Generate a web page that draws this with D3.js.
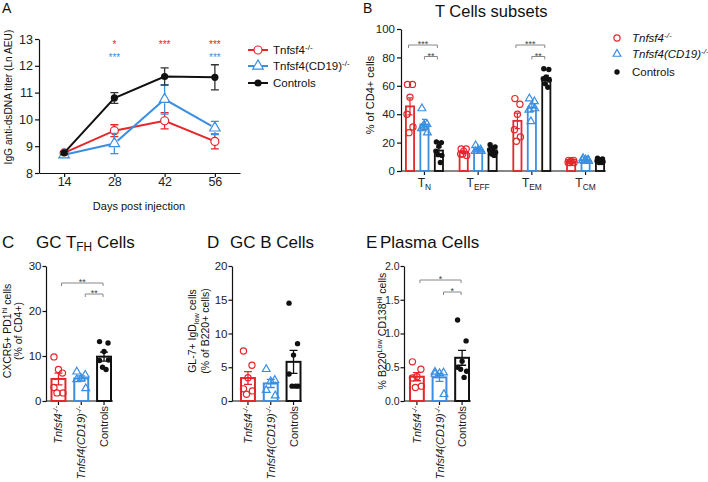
<!DOCTYPE html>
<html>
<head>
<meta charset="utf-8">
<script src="https://cdn.jsdelivr.net/npm/d3@7"></script>
<style>
  body { margin: 0; background: #fff; }
  svg { font-family: "Liberation Sans", Arial, Helvetica, sans-serif; }
</style>
</head>
<body>
<svg id="fig" width="708" height="482"></svg>
<script>
// --- panel A: anti-dsDNA titer over time ---
const days = [14, 28, 42, 56];
const titerKO = [8.75, 9.58, 9.95, 9.18];
const titerKOErr = [0.05, 0.22, 0.30, 0.28];
const titerCD19 = [8.68, 9.10, 10.75, 9.68];
const titerCD19Err = [0.10, 0.38, 0.55, 0.25];
const titerCtrl = [8.75, 10.80, 11.60, 11.57];
const titerCtrlErr = [0.05, 0.20, 0.32, 0.47];
const starsKO = ["", "*", "***", "***"];
const starsCD19 = ["", "***", "", "***"];

// --- panel B: T cell subsets (% of CD4+) ---
const subsets = ["N", "EFF", "EM", "CM"];
const tMeanKO = [45.5, 13.3, 35.3, 6.7];
const tErrKO = [6.0, 0.8, 5.5, 0.4];
const tMeanCD19 = [32.8, 15.2, 44.7, 7.7];
const tErrCD19 = [3.5, 0.8, 2.8, 0.4];
const tMeanCtrl = [14.4, 14.6, 65.6, 7.2];
const tErrCtrl = [2.3, 1.1, 1.8, 0.5];
const tPtsKO = [[61, 61, 52, 40, 31, 27], [15.5, 15.5, 14, 12, 11, 12], [51, 47, 40, 29, 24, 21], [7.5, 7.5, 7, 6, 6, 6]];
const tPtsCD19 = [[44, 33, 31, 30, 27, 32], [18, 15, 15, 14, 14], [51, 49, 46, 43, 44, 35], [9, 8, 8, 7.5, 7, 7]];
const tPtsCtrl = [[20.5, 20, 17.5, 14, 11, 11.5, 6], [18.5, 17, 16, 15, 13, 12, 11], [72, 71.5, 66, 65, 64, 61.5, 59], [9, 8.5, 8, 7, 6.5, 6, 6]];

// --- panels C, D, E ---
const groups = ["ko", "cd19", "ctrl"];
const tfhMean = [4.9, 5.0, 9.85];
const tfhErr = [1.3, 0.6, 1.0];
const tfhPts = [[9.8, 6.2, 7, 3, 1.8, 1.8], [6.5, 5.8, 5, 4.8, 2.8], [13.2, 12.9, 11, 9, 9.1, 7.5, 7]];
const gcbMean = [3.4, 2.6, 5.8];
const gcbErr = [0.95, 0.6, 1.7];
const gcbPts = [[7.4, 5.3, 3.45, 1.8, 1.5, 1.0], [4.7, 3.1, 2.9, 1.6, 0.8], [14.5, 8.5, 6.8, 4.0, 2.2, 2.2, 2.2]];
const plasmaMean = [0.36, 0.35, 0.64];
const plasmaErr = [0.06, 0.06, 0.11];
const plasmaPts = [[0.58, 0.47, 0.36, 0.34, 0.22, 0.2], [0.43, 0.42, 0.41, 0.4, 0.1], [1.2, 0.89, 0.59, 0.5, 0.44, 0.47, 0.35]];

const RED = "#e5262b", BLUE = "#3a8fe2", BLACK = "#111";
const COLORS = [RED, BLUE, BLACK];
const MARKS = ["circle", "tri", "dot"];
const JIT = [-2.5, 2.5, 0, -3, 3, -1, 1.5];
const JIT_WIDE = [-4.5, 4, 0, -4.5, 4.5, -1.5, 2];

const svg = d3.select("#fig");

function styleAxis(g, fs) {
  g.selectAll(".domain, .tick line").attr("stroke", "#111").attr("stroke-width", 1.2);
  g.selectAll("text").attr("font-size", fs).attr("fill", "#222");
}

// text with sub/superscript parts: [[text, "sub"|"sup"|null], ...]
function richText(sel, parts) {
  let shift = 0;
  parts.forEach(([t, kind]) => {
    const target = kind === "sup" ? -4 : kind === "sub" ? 3 : 0;
    sel.append("tspan").attr("dy", (target - shift) || null)
      .attr("font-size", kind ? "0.7em" : null).text(t);
    shift = target;
  });
  return sel;
}

function mark(g, x, y, kind, color, big) {
  if (kind === "circle") {
    g.append("circle").attr("cx", x).attr("cy", y).attr("r", big ? 4 : 3.1)
      .attr("fill", "none").attr("stroke", color).attr("stroke-width", 1.2);
  } else if (kind === "tri") {
    g.append("path").attr("d", d3.symbol(d3.symbolTriangle, big ? 48 : 26)())
      .attr("transform", `translate(${x},${y})`)
      .attr("fill", "none").attr("stroke", color).attr("stroke-width", 1.2);
  } else {
    g.append("circle").attr("cx", x).attr("cy", y).attr("r", big ? 3.6 : 2.7).attr("fill", color);
  }
}

function errBar(g, x, y0, y1, cap, color, w) {
  g.append("path").attr("d", `M${x},${y0}V${y1}M${x - cap},${y0}H${x + cap}M${x - cap},${y1}H${x + cap}`)
    .attr("stroke", color).attr("stroke-width", w || 1.3).attr("fill", "none");
}

function bracket(g, x1, x2, y, label) {
  g.append("path").attr("d", `M${x1},${y + 3}V${y}H${x2}V${y + 3}`)
    .attr("stroke", "#888").attr("stroke-width", 1).attr("fill", "none");
  g.append("text").attr("x", (x1 + x2) / 2).attr("y", y + 2.2).attr("text-anchor", "middle")
    .attr("font-size", 9).attr("fill", "#444").text(label);
}

function label(x, y, txt, fs) {
  return svg.append("text").attr("x", x).attr("y", y).attr("font-size", fs).attr("fill", "#111").text(txt);
}

// ================= Panel A =================
(function () {
  const x = d3.scaleLinear().domain([7, 63]).range([39, 240]);
  const y = d3.scaleLinear().domain([8, 13]).range([173, 39]);
  const g = svg.append("g");

  g.append("g").attr("transform", "translate(39,0)")
    .call(d3.axisLeft(y).ticks(5).tickSize(4).tickPadding(2).tickSizeOuter(0))
    .call(styleAxis, 12.5);
  g.append("g").attr("transform", "translate(0,173)")
    .call(d3.axisBottom(x).tickValues(days).tickSize(4).tickPadding(0).tickSizeOuter(0))
    .call(styleAxis, 12.5);

  const series = [[titerKO, titerKOErr], [titerCD19, titerCD19Err], [titerCtrl, titerCtrlErr]];
  const line = d3.line().x((d, i) => x(days[i])).y(d => y(d));
  series.forEach(([vals, errs], s) => {
    vals.forEach((v, i) => errBar(g, x(days[i]), y(v - errs[i]), y(v + errs[i]), 4, s === 2 ? "#333" : COLORS[s], 1.3));
    g.append("path").datum(vals).attr("d", line).attr("fill", "none")
      .attr("stroke", COLORS[s]).attr("stroke-width", 2);
    vals.forEach((v, i) => {
      if (s !== 2) g.append("circle").attr("cx", x(days[i])).attr("cy", y(v)).attr("r", 4).attr("fill", "#fff");
      mark(g, x(days[i]), y(v), MARKS[s], COLORS[s], true);
    });
  });

  starsKO.forEach((s, i) => {
    g.append("text").attr("x", x(days[i])).attr("y", 47.5).attr("text-anchor", "middle")
      .attr("font-size", 10).attr("fill", RED).text(s);
  });
  starsCD19.forEach((s, i) => {
    g.append("text").attr("x", x(days[i])).attr("y", 60.5).attr("text-anchor", "middle")
      .attr("font-size", 10).attr("fill", BLUE).text(s);
  });

  // legend
  const legY = [50, 66, 83];
  const legTxt = [[["Tnfsf4", null], ["-/-", "sup"]], [["Tnfsf4(CD19)", null], ["-/-", "sup"]], [["Controls", null]]];
  legY.forEach((ly, s) => {
    g.append("line").attr("x1", 248).attr("x2", 268).attr("y1", ly).attr("y2", ly)
      .attr("stroke", COLORS[s]).attr("stroke-width", 2);
    if (s !== 2) g.append("circle").attr("cx", 258).attr("cy", ly).attr("r", 4).attr("fill", "#fff");
    mark(g, 258, ly, MARKS[s], COLORS[s], true);
    richText(g.append("text").attr("x", 273).attr("y", ly + 4).attr("font-size", 11.5).attr("fill", "#111"), legTxt[s]);
  });

  g.append("text").attr("transform", "translate(8.5,97) rotate(-90)").attr("dy", "0.35em")
    .attr("text-anchor", "middle").attr("font-size", 10.2).attr("fill", "#111")
    .text("IgG anti-dsDNA titer (Ln AEU)");
  g.append("text").attr("x", 139).attr("y", 210).attr("text-anchor", "middle")
    .attr("font-size", 11).attr("fill", "#111").text("Days post injection");
  label(2, 13, "A", 14);
})();

// ================= Panel B =================
(function () {
  const y = d3.scaleLinear().domain([0, 100]).range([171, 29]);
  const x = d3.scaleBand().domain(subsets).range([405, 605]).paddingInner(0.276);
  const xs = d3.scaleBand().domain([0, 1, 2]).range([0, x.bandwidth()]).paddingInner(0.31);
  const g = svg.append("g");

  g.append("g").attr("transform", "translate(401,0)")
    .call(d3.axisLeft(y).tickValues([0, 20, 40, 60, 80, 100]).tickSize(4).tickPadding(2).tickSizeOuter(0))
    .call(styleAxis, 11.5);
  const xa = g.append("g").attr("transform", "translate(0,171)")
    .call(d3.axisBottom(x).tickSize(4).tickSizeOuter(0).tickFormat(""))
    .call(styleAxis, 11.5);
  xa.select(".domain").attr("d", "M401,0H606");
  subsets.forEach(s => {
    richText(g.append("text").attr("x", x(s) + x.bandwidth() / 2).attr("y", 186.5)
      .attr("text-anchor", "middle").attr("font-size", 12).attr("fill", "#222"), [["T", null], [s, "sub"]]);
  });

  const means = [tMeanKO, tMeanCD19, tMeanCtrl];
  const errs = [tErrKO, tErrCD19, tErrCtrl];
  const pts = [tPtsKO, tPtsCD19, tPtsCtrl];
  subsets.forEach((sub, gi) => {
    [0, 1, 2].forEach(s => {
      const bx = x(sub) + xs(s), bw = xs.bandwidth(), cx = bx + bw / 2;
      const m = means[s][gi];
      g.append("rect").attr("x", bx + 0.9).attr("width", bw - 1.8)
        .attr("y", y(m)).attr("height", y(0) - y(m))
        .attr("fill", "none").attr("stroke", COLORS[s]).attr("stroke-width", 1.8);
      errBar(g, cx, y(m - errs[s][gi]), y(m + errs[s][gi]), 2.5, COLORS[s], 1.2);
      pts[s][gi].forEach((v, k) => mark(g, cx + JIT[k % JIT.length], y(v), MARKS[s], COLORS[s], false));
    });
  });

  const cen = (sub, s) => x(sub) + xs(s) + xs.bandwidth() / 2;
  bracket(g, cen("N", 0) - 1.5, cen("N", 2) - 1.5, 45, "***");
  bracket(g, cen("N", 1), cen("N", 2) - 1.5, 56.5, "**");
  bracket(g, cen("EM", 0) - 1.5, cen("EM", 2) - 1.5, 45, "***");
  bracket(g, cen("EM", 1), cen("EM", 2) - 1.5, 56.5, "**");

  // legend
  const legY = [38, 54, 72];
  const legTxt = [[["Tnfsf4", null], ["-/-", "sup"]], [["Tnfsf4(CD19)", null], ["-/-", "sup"]], [["Controls", null]]];
  legY.forEach((ly, s) => {
    mark(g, 617, ly, MARKS[s], COLORS[s], false);
    richText(g.append("text").attr("x", 632).attr("y", ly + 4).attr("font-size", 11.5)
      .attr("font-style", s < 2 ? "italic" : null).attr("fill", "#111"), legTxt[s]);
  });

  g.append("text").attr("transform", "translate(370,95) rotate(-90)").attr("dy", "0.35em")
    .attr("text-anchor", "middle").attr("font-size", 11).attr("fill", "#111").text("% of CD4+ cells");
  label(363, 13, "B", 14);
  label(435, 17, "T Cells subsets", 16.5);
})();

// ================= Panels C, D, E =================
function barPanel(cfg) {
  const y = d3.scaleLinear().domain([0, cfg.max]).range([401, 266]);
  const x = d3.scaleBand().domain(groups).range(cfg.barRange).paddingInner(0.3);
  const g = svg.append("g");

  g.append("g").attr("transform", `translate(${cfg.axisX},0)`)
    .call(d3.axisLeft(y).tickValues(cfg.ticks).tickFormat(cfg.fmt).tickSize(3.5).tickPadding(1).tickSizeOuter(0))
    .call(styleAxis, cfg.tickFs || 11.5);
  const xa = g.append("g").attr("transform", "translate(0,401)")
    .call(d3.axisBottom(x).tickSize(4).tickSizeOuter(0).tickFormat(""))
    .call(styleAxis, 11.5);
  xa.select(".domain").attr("d", `M${cfg.axisX},0H${cfg.axisEnd}`);

  const names = [[["Tnfsf4", null], ["-/-", "sup"]], [["Tnfsf4(CD19)", null], ["-/-", "sup"]], [["Controls", null]]];
  groups.forEach((gr, i) => {
    const cx = x(gr) + x.bandwidth() / 2;
    richText(g.append("text").attr("transform", `translate(${cx + 4},406) rotate(-90)`)
      .attr("text-anchor", "end").attr("font-size", 11).attr("fill", "#222")
      .attr("font-style", i < 2 ? "italic" : null), names[i]);

    const m = cfg.means[i];
    g.append("rect").attr("x", x(gr) + 1).attr("width", x.bandwidth() - 2)
      .attr("y", y(m)).attr("height", y(0) - y(m))
      .attr("fill", "none").attr("stroke", COLORS[i]).attr("stroke-width", 2);
    errBar(g, cx, y(m - cfg.errs[i]), y(m + cfg.errs[i]), 4, COLORS[i], 1.3);
    cfg.pts[i].forEach((v, k) => mark(g, cx + JIT_WIDE[k % JIT_WIDE.length], y(v), MARKS[i], COLORS[i], false));
  });

  const cen = i => x(groups[i]) + x.bandwidth() / 2;
  if (cfg.stars) {
    bracket(g, cen(0) + 3, cen(2) - 1, cfg.br[0], cfg.stars);
    bracket(g, cen(1) + 4, cen(2) - 1, cfg.br[1], cfg.stars);
  }

  cfg.ylab.forEach(([cx, parts]) => {
    richText(g.append("text").attr("transform", `translate(${cx},331) rotate(-90)`)
      .attr("text-anchor", "middle").attr("font-size", 10.5).attr("fill", "#111"), parts);
  });
  label(cfg.letterX, 248, cfg.letter, 17);
  richText(svg.append("text").attr("x", cfg.titleX).attr("y", 248).attr("font-size", 17).attr("fill", "#111"), cfg.title);
}

barPanel({
  axisX: 46, axisEnd: 113, barRange: [50.5, 112], max: 30, ticks: [0, 10, 20, 30], fmt: d3.format("d"),
  means: tfhMean, errs: tfhErr, pts: tfhPts, br: [283, 294], stars: "**",
  ylab: [[11, [["CXCR5+ PD1", null], ["hi", "sup"], [" cells", null]]], [21.5, [["(% of CD4+)", null]]]],
  letter: "C", letterX: 2, titleX: 36, title: [["GC T", null], ["FH", "sub"], [" Cells", null]]
});
barPanel({
  axisX: 232, axisEnd: 302, barRange: [240, 301.5], max: 20, ticks: [0, 5, 10, 15, 20], fmt: d3.format("d"),
  means: gcbMean, errs: gcbErr, pts: gcbPts, br: [], stars: "",
  ylab: [[196, [["GL-7+ IgD", null], ["low", "sub"], [" cells", null]]], [209, [["(% of B220+ cells)", null]]]],
  letter: "D", letterX: 207, titleX: 230, title: [["GC B Cells", null]]
});
barPanel({
  axisX: 404, axisEnd: 471, barRange: [409, 470], max: 2, ticks: [0, 0.5, 1, 1.5, 2], fmt: d3.format(".1f"),
  tickFs: 10.5,
  means: plasmaMean, errs: plasmaErr, pts: plasmaPts, br: [280, 292], stars: "*",
  ylab: [[386, [["% B220", null], ["Low", "sup"], [" CD138", null], ["Hi", "sup"], [" cells", null]]]],
  letter: "E", letterX: 366, titleX: 380, title: [["Plasma Cells", null]]
});
</script>
</body>
</html>
